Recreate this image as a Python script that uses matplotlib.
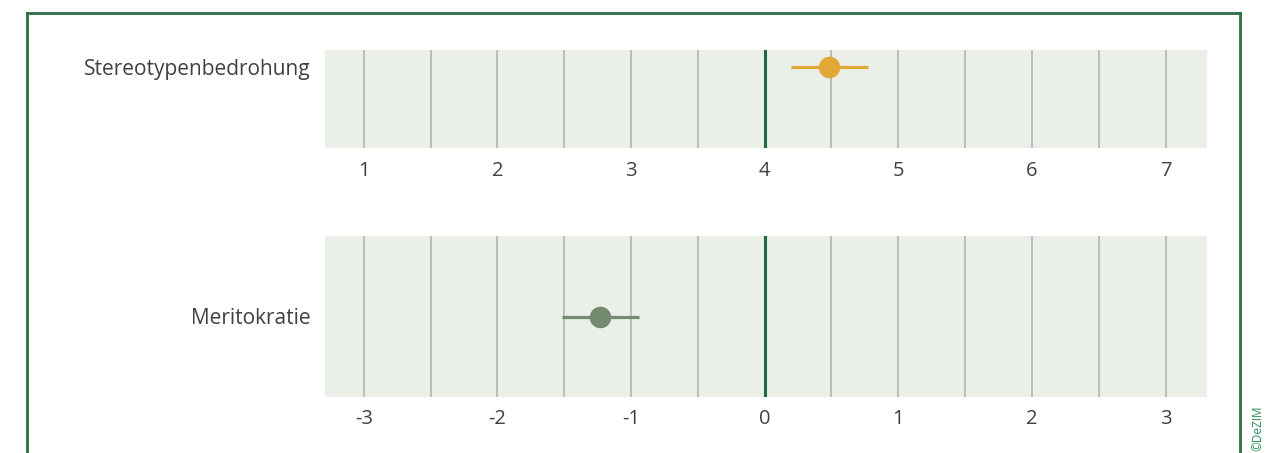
import matplotlib.pyplot as plt
from matplotlib.lines import Line2D

# data
labels = ["Stereotypenbedrohung", "Meritokratie"]
means = [4.48, -1.23]
ci_low = [4.20, -1.52]
ci_high = [4.77, -0.94]
ref_line = [4, 0]
x_ticks = [[1, 2, 3, 4, 5, 6, 7], [-3, -2, -1, 0, 1, 2, 3]]
x_lims = [(0.71, 7.31), (-3.29, 3.31)]
colors = ["#E1A737", "#738B6F"]

panel_bg = "#EAEFE8"
grid_col = "#B9BEB6"
dark_green = "#1E6A45"
text_col = "#404040"

plt.rcParams['font.family'] = ['Open Sans', 'DejaVu Sans']

fig = plt.figure(figsize=(12.74, 4.53), dpi=100)
W, H = 1274, 453

# axes boxes in pixel coords (left, top, right, bottom)
boxes = [(325, 50, 1207, 148), (325, 236, 1207, 397)]
point_y = [67, 317]
label_y = [69, 318]

for i in range(2):
    l, t, r, b = boxes[i]
    ax = fig.add_axes([l / W, 1 - b / H, (r - l) / W, (b - t) / H])
    ax.set_facecolor(panel_bg)
    lo, hi = x_lims[i]
    ax.set_xlim(lo, hi)
    ax.set_ylim(0, 1)
    # gridlines every 0.5
    g = x_ticks[i][0]
    while g <= x_ticks[i][-1] + 1e-9:
        if abs(g - ref_line[i]) > 1e-9:
            ax.axvline(g, color=grid_col, lw=1.4, zorder=1)
        g += 0.5
    ax.axvline(ref_line[i], color=dark_green, lw=2.2, zorder=2)
    py = 1 - (point_y[i] - t) / (b - t)
    ax.plot([ci_low[i], ci_high[i]], [py, py], color=colors[i], lw=2.3,
            solid_capstyle='butt', zorder=3)
    ax.plot(means[i], py, 'o', color=colors[i], ms=14.5, zorder=4)
    ax.set_xticks(x_ticks[i])
    ax.set_xticklabels([str(v) for v in x_ticks[i]])
    ax.tick_params(axis='x', length=0, pad=9, labelsize=14.5, labelcolor=text_col)
    ax.set_yticks([])
    for s in ax.spines.values():
        s.set_visible(False)
    fig.text(311 / W, 1 - label_y[i] / H, labels[i], ha='right', va='center',
             fontsize=15, color=text_col)

# frame
fc = "#2D6E45"
fig.add_artist(Line2D([27 / W, 27 / W], [0, 1 - 13 / H], color=fc, lw=2,
                      transform=fig.transFigure))
fig.add_artist(Line2D([1240 / W, 1240 / W], [0, 1 - 13 / H], color=fc, lw=2,
                      transform=fig.transFigure))
fig.add_artist(Line2D([27 / W, 1240 / W], [1 - 13 / H, 1 - 13 / H], color=fc, lw=2,
                      transform=fig.transFigure, solid_capstyle='projecting'))
fig.text(1258 / W, 1 - 428 / H, "©DeZIM", rotation=90, ha='center', va='center',
         fontsize=8.5, color="#2D8A55")

fig.savefig("out.png", dpi=100)
